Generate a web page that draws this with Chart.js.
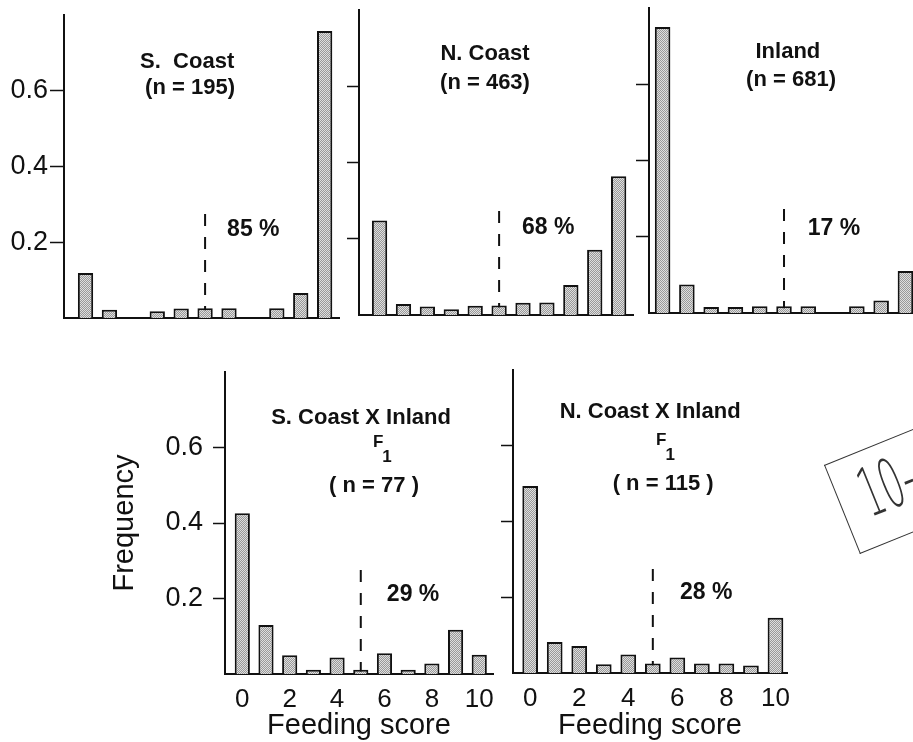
<!DOCTYPE html>
<html>
<head>
<meta charset="utf-8">
<script src="https://cdn.jsdelivr.net/npm/chart.js@4.4.1/dist/chart.umd.min.js"></script>
<style>
  html, body { margin: 0; padding: 0; background: #fff; }
  body { width: 913px; height: 742px; position: relative; overflow: hidden; }
  canvas { position: absolute; }
  .note {
    position: absolute; left: 824px; top: 465px; width: 140px; height: 94px;
    border-top: 1.5px solid #333; border-left: 1.5px solid #333; border-bottom: 1.5px solid #333;
    transform: rotate(-22deg); transform-origin: 0 0;
  }
  .note span {
    position: absolute; left: 22px; top: 2px; color: #333;
    font: 200 68px "DejaVu Sans", sans-serif;
    transform: scaleX(0.5); transform-origin: 0 0;
  }
</style>
</head>
<body>
<div class="note"><span>10-</span></div>
<script>
(() => {
  "use strict";

  // feeding score classes (x axis)
  const scores = [0, 1, 2, 3, 4, 5, 6, 7, 8, 9, 10];
  const xTickValues = [0, 2, 4, 6, 8, 10];
  const yTickValues = [0.2, 0.4, 0.6];

  // frequencies
  const sCoast = [0.119, 0.022, 0, 0.018, 0.025, 0.026, 0.026, 0, 0.026, 0.066, 0.758];
  const nCoast = [0.248, 0.029, 0.022, 0.015, 0.024, 0.025, 0.032, 0.033, 0.079, 0.171, 0.364];
  const inland = [0.75, 0.075, 0.016, 0.016, 0.018, 0.018, 0.018, 0, 0.018, 0.033, 0.11];
  const sCoastXInland = [0.426, 0.13, 0.05, 0.011, 0.044, 0.011, 0.055, 0.011, 0.028, 0.117, 0.051];
  const nCoastXInland = [0.494, 0.082, 0.071, 0.023, 0.049, 0.025, 0.041, 0.025, 0.025, 0.02, 0.146];

  const panelNames = ["S.  Coast", "N. Coast", "Inland", "S. Coast X Inland", "N. Coast X Inland"];
  const sampleSizes = [195, 463, 681, 77, 115];
  const percentAbove = [85, 68, 17, 29, 28];
  const cutoffScore = 5;
  const cutoffHeight = 0.3;

  const FONT = '"Liberation Sans", Arial, Helvetica, sans-serif';
  const INK = "#111";
  Chart.defaults.font.family = FONT;
  Chart.defaults.color = INK;

  // frame of each panel in page pixels, plus where its text sits (data units)
  const panels = [
    { values: sCoast, left: 64, top: 15, right: 339, bottom: 318, xMin: -0.9, xMax: 10.6,
      yWidth: 64, tickLen: 14, tickPad: 2, yLabels: true, xLabels: false, yTitle: false,
      lines: [{ x: 4.25, y: 0.677 }, { x: 4.37, y: 0.607 }], pct: { x: 5.92, y: 0.232 } },
    { values: nCoast, left: 359, top: 10, right: 633, bottom: 315, xMin: -0.86, xMax: 10.6,
      yWidth: 14, tickLen: 12, tickPad: 2, yLabels: false, xLabels: false, yTitle: false,
      lines: [{ x: 4.41, y: 0.684 }, { x: 4.41, y: 0.61 }], pct: { x: 5.96, y: 0.229 } },
    { values: inland, left: 649, top: 8, right: 920, bottom: 313, xMin: -0.56, xMax: 10.6,
      yWidth: 15, tickLen: 13, tickPad: 2, yLabels: false, xLabels: false, yTitle: false,
      lines: [{ x: 5.16, y: 0.686 }, { x: 5.29, y: 0.612 }], pct: { x: 5.98, y: 0.222 } },
    { values: sCoastXInland, left: 225, top: 372, right: 493, bottom: 674, xMin: -0.73, xMax: 10.58,
      yWidth: 120, tickLen: 12, tickPad: 10, yLabels: true, xLabels: true, yTitle: true,
      lines: [{ x: 5.01, y: 0.679 }, { x: 5.56, y: 0.497 }], f1: { x: 5.73, y: 0.613 }, pct: { x: 6.1, y: 0.209 } },
    { values: nCoastXInland, left: 513, top: 370, right: 787, bottom: 673, xMin: -0.7, xMax: 10.47,
      yWidth: 14, tickLen: 12, tickPad: 2, yLabels: false, xLabels: true, yTitle: false,
      lines: [{ x: 4.89, y: 0.69 }, { x: 5.42, y: 0.499 }], f1: { x: 5.34, y: 0.615 }, pct: { x: 6.11, y: 0.213 } }
  ];

  function makeStipple() {
    const c = document.createElement("canvas");
    c.width = 2;
    c.height = 2;
    const g = c.getContext("2d");
    g.fillStyle = "#dedede";
    g.fillRect(0, 0, 2, 2);
    g.fillStyle = "#999999";
    g.fillRect(0, 0, 1, 1);
    g.fillRect(1, 1, 1, 1);
    return g.createPattern(c, "repeat");
  }

  function textPlugin(p, index) {
    return {
      id: "panelText" + index,
      afterDatasetsDraw(chart) {
        const { ctx, scales: { x, y } } = chart;
        const n = sampleSizes[index];
        const texts = index < 3
          ? [panelNames[index], `(n = ${n})`]
          : [panelNames[index], `( n = ${n} )`];
        ctx.save();
        ctx.fillStyle = INK;
        ctx.textAlign = "center";
        ctx.textBaseline = "middle";
        ctx.font = `bold 22px ${FONT}`;
        texts.forEach((t, i) => {
          const pos = p.lines[i];
          ctx.fillText(t, x.getPixelForValue(pos.x), y.getPixelForValue(pos.y));
        });
        if (p.f1) {
          const fx = x.getPixelForValue(p.f1.x);
          const fy = y.getPixelForValue(p.f1.y);
          ctx.font = `bold 17px ${FONT}`;
          ctx.fillText("F", fx, fy);
          ctx.fillText("1", fx + 9, fy + 15);
        }
        ctx.textAlign = "left";
        ctx.font = `bold 23px ${FONT}`;
        ctx.fillText(`${percentAbove[index]} %`, x.getPixelForValue(p.pct.x), y.getPixelForValue(p.pct.y));
        ctx.restore();
      }
    };
  }

  function drawPanel(p, index, stipple) {
    const padTop = 6;
    const padRight = 24;
    const xHeight = p.xLabels ? 742 - p.bottom : 6;
    const canvas = document.createElement("canvas");
    canvas.width = p.yWidth + (p.right - p.left) + padRight;
    canvas.height = padTop + (p.bottom - p.top) + xHeight;
    canvas.style.left = (p.left - p.yWidth) + "px";
    canvas.style.top = (p.top - padTop) + "px";
    document.body.appendChild(canvas);

    new Chart(canvas, {
      type: "bar",
      data: {
        datasets: [
          {
            type: "bar",
            data: scores.map((s, i) => ({ x: s, y: p.values[i] })),
            backgroundColor: stipple,
            borderColor: INK,
            borderWidth: 2,
            borderSkipped: "start",
            barPercentage: 0.64,
            categoryPercentage: 1
          },
          {
            type: "line",
            data: [{ x: cutoffScore, y: 0 }, { x: cutoffScore, y: cutoffHeight }],
            borderColor: INK,
            borderWidth: 2,
            borderDash: [12, 11],
            pointRadius: 0,
            fill: false
          }
        ]
      },
      options: {
        responsive: false,
        animation: false,
        events: [],
        layout: { padding: { top: padTop, right: padRight, left: 0, bottom: 0 } },
        plugins: { legend: { display: false }, tooltip: { enabled: false } },
        scales: {
          x: {
            type: "linear",
            min: p.xMin,
            max: p.xMax,
            offset: false,
            grid: { display: false, drawTicks: false, offset: false },
            border: { display: true, color: INK, width: 2 },
            afterBuildTicks: (s) => { s.ticks = xTickValues.map((v) => ({ value: v })); },
            ticks: { display: p.xLabels, padding: 10, autoSkip: false, maxRotation: 0, font: { size: 26 }, color: INK },
            title: { display: p.xLabels, text: "Feeding score", font: { size: 29, lineHeight: 1 }, color: INK, padding: { top: 0, bottom: 2 } },
            afterFit: (s) => { s.height = xHeight; s.paddingLeft = 0; s.paddingRight = 0; }
          },
          y: {
            min: 0,
            max: 0.8,
            afterBuildTicks: (s) => { s.ticks = yTickValues.map((v) => ({ value: v })); },
            grid: { display: true, drawOnChartArea: false, drawTicks: true, tickLength: p.tickLen, tickWidth: 1.5, tickColor: INK, color: INK },
            border: { display: true, color: INK, width: 2 },
            ticks: { display: p.yLabels, padding: p.tickPad, font: { size: 27 }, color: INK, callback: (v) => v.toFixed(1) },
            title: { display: p.yTitle, text: "Frequency", font: { size: 29, lineHeight: 1 }, color: INK, padding: { top: 5, bottom: 0 } },
            afterFit: (s) => { s.width = p.yWidth; s.paddingTop = 0; s.paddingBottom = 0; }
          }
        }
      },
      plugins: [textPlugin(p, index)]
    });
  }

  const stipple = makeStipple();
  panels.forEach((p, i) => drawPanel(p, i, stipple));
})();
</script>
</body>
</html>
